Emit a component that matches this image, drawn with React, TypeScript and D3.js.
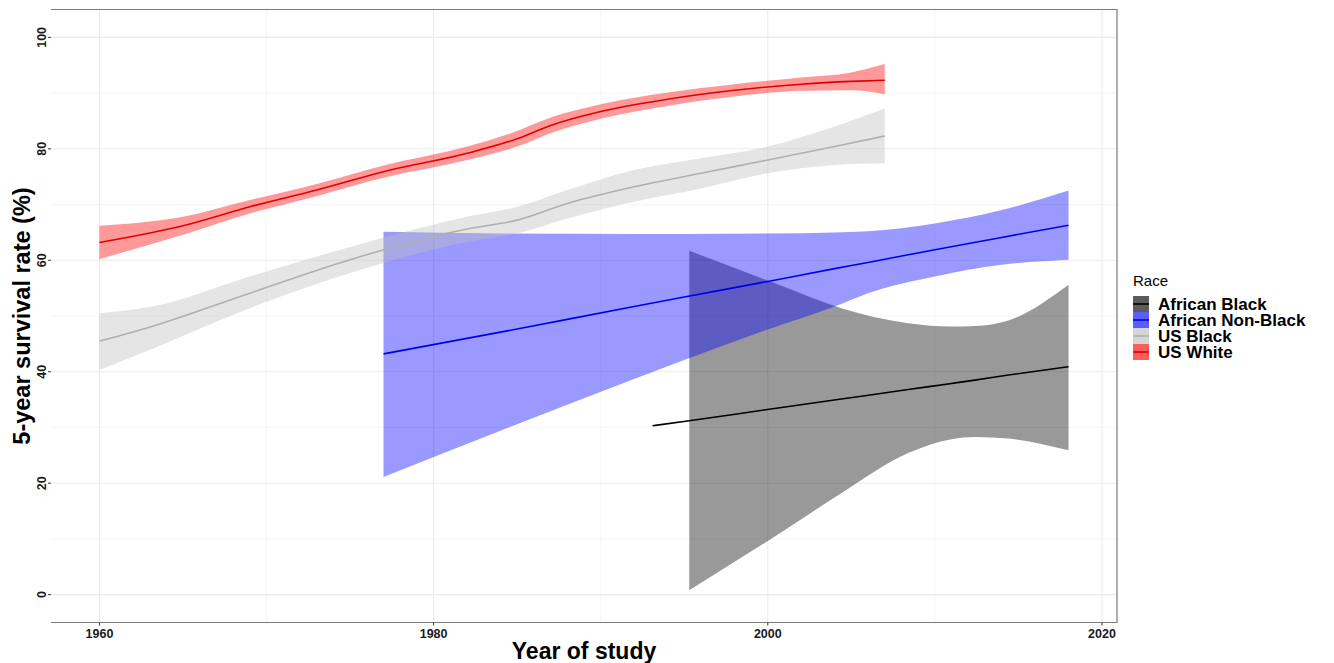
import { area, curveMonotoneX, line, range, scaleLinear } from 'd3';

// US White
const whiteYears = [1960, 1965, 1969, 1973, 1977, 1982, 1985, 1987, 1990, 1994, 1998, 2002, 2005, 2007];
const whiteFit = [63.2, 66.2, 69.6, 72.6, 75.9, 79.2, 81.8, 84.2, 86.7, 88.9, 90.5, 91.6, 92.1, 92.3];
const whiteLow = [60.2, 64.6, 68.4, 71.5, 74.8, 78.0, 80.4, 82.8, 85.4, 87.7, 89.4, 90.4, 90.5, 89.8];
const whiteHigh = [66.2, 67.8, 70.8, 73.7, 77.0, 80.4, 83.2, 85.6, 88.0, 90.1, 91.6, 92.8, 93.7, 95.2];

// US Black
const usBlackYears = [1960, 1963, 1969, 1975, 1982, 1985, 1988, 1992, 1996, 2000, 2004, 2007];
const usBlackFit = [45.5, 48.0, 54.1, 60.1, 65.6, 67.2, 70.2, 73.2, 75.6, 78.0, 80.4, 82.3];
const usBlackLow = [40.3, 43.9, 51.4, 57.7, 63.3, 64.8, 67.5, 70.5, 72.9, 75.6, 77.1, 77.4];
const usBlackHigh = [50.5, 51.6, 57.1, 62.4, 67.8, 69.6, 72.6, 76.2, 78.3, 80.4, 84.0, 87.3];

// African Non-Black
const nonBlackYears = [1977, 1984, 1992, 1995, 2000, 2004, 2006, 2010, 2014, 2018];
const nonBlackFit = [43.2, 47.1, 51.7, 53.4, 56.2, 58.5, 59.6, 61.9, 64.1, 66.3];
const nonBlackLow = [21.1, 29.4, 38.7, 42.1, 47.6, 51.7, 54.1, 57.1, 59.2, 60.1];
const nonBlackHigh = [65.1, 64.8, 64.7, 64.7, 64.8, 65.0, 65.2, 66.6, 69.0, 72.5];

// African Black (band is cut where it leaves the 0-100 limits)
const africanYears = [1993.1, 1995.3, 2000.4, 2004.4, 2008.4, 2011, 2012.4, 2014.4, 2018];
const africanFit = [30.3, 31.2, 33.4, 35.1, 36.8, 37.9, 38.5, 39.4, 40.9];
const africanLow = [null, 0.8, 10.4, 18.2, 25.4, 27.9, 28.3, 28.0, 25.9];
const africanHigh = [null, 61.7, 55.9, 51.4, 48.7, 48.1, 48.2, 49.2, 55.6];

const xTicks = [1960, 1980, 2000, 2020];
const xMinor = [1970, 1990, 2010];
const yTicks = [0, 20, 40, 60, 80, 100];
const yMinor = [10, 30, 50, 70, 90];

const series = [
  { name: 'African Black', years: africanYears, fit: africanFit, low: africanLow, high: africanHigh, fill: '#000000', stroke: '#000000' },
  { name: 'African Non-Black', years: nonBlackYears, fit: nonBlackFit, low: nonBlackLow, high: nonBlackHigh, fill: '#0000ff', stroke: '#0000e6' },
  { name: 'US Black', years: usBlackYears, fit: usBlackFit, low: usBlackLow, high: usBlackHigh, fill: '#bebebe', stroke: '#b0b0b0' },
  { name: 'US White', years: whiteYears, fit: whiteFit, low: whiteLow, high: whiteHigh, fill: '#ff0000', stroke: '#e00000' },
];

const W = 1334;
const H = 663;
const panel = { left: 51, right: 1117, top: 9.5, bottom: 622.5 };
const font = '"Liberation Sans", Arial, Helvetica, sans-serif';

export default function App() {
  const x = scaleLinear().domain([1957.1, 2020.9]).range([panel.left, panel.right]);
  const y = scaleLinear().domain([-5, 105]).range([panel.bottom, panel.top]);

  const band = area<number>().curve(curveMonotoneX);
  const fitLine = line<number>().curve(curveMonotoneX);

  return (
    <svg width={W} height={H} style={{ position: 'absolute', left: 0, top: 0, background: '#fff' }}>
      <defs>
        <clipPath id="panel">
          <rect x={panel.left} y={panel.top} width={panel.right - panel.left} height={panel.bottom - panel.top} />
        </clipPath>
      </defs>
      <rect x={panel.left} y={panel.top} width={panel.right - panel.left} height={panel.bottom - panel.top} fill="#fff" />
      <g>
        {xMinor.map((t) => (
          <line key={'xm' + t} x1={x(t)} x2={x(t)} y1={panel.top} y2={panel.bottom} stroke="#f4f4f4" strokeWidth={0.8} />
        ))}
        {yMinor.map((t) => (
          <line key={'ym' + t} y1={y(t)} y2={y(t)} x1={panel.left} x2={panel.right} stroke="#f4f4f4" strokeWidth={0.8} />
        ))}
        {xTicks.map((t) => (
          <line key={'xg' + t} x1={x(t)} x2={x(t)} y1={panel.top} y2={panel.bottom} stroke="#ebebeb" strokeWidth={1.1} />
        ))}
        {yTicks.map((t) => (
          <line key={'yg' + t} y1={y(t)} y2={y(t)} x1={panel.left} x2={panel.right} stroke="#ebebeb" strokeWidth={1.1} />
        ))}
      </g>
      <g clipPath="url(#panel)">
        {series.map((s) => {
          const idx = range(s.years.length);
          const bandPath = band
            .defined((i) => s.low[i] != null && s.high[i] != null)
            .x((i) => x(s.years[i]))
            .y0((i) => y(s.low[i] as number))
            .y1((i) => y(s.high[i] as number))(idx);
          const linePath = fitLine.x((i) => x(s.years[i])).y((i) => y(s.fit[i]))(idx);
          return (
            <g key={s.name}>
              <path d={bandPath || ''} fill={s.fill} fillOpacity={0.4} />
              <path d={linePath || ''} fill="none" stroke={s.stroke} strokeWidth={1.6} />
            </g>
          );
        })}
      </g>
      {/* panel border */}
      <path
        d={`M${panel.left},${panel.top}H${panel.right}V${panel.bottom}H${panel.left}`}
        fill="none"
        stroke="#7a7a7a"
        strokeWidth={1.2}
      />
      {/* axes */}
      <g fontFamily={font} fontWeight="bold" fontSize={12.5} fill="#1a1a1a">
        {xTicks.map((t) => (
          <g key={'xt' + t}>
            <line x1={x(t)} x2={x(t)} y1={panel.bottom} y2={panel.bottom + 3} stroke="#333" strokeWidth={1} />
            <text x={x(t)} y={638} textAnchor="middle">
              {t}
            </text>
          </g>
        ))}
        {yTicks.map((t) => (
          <g key={'yt' + t}>
            <line x1={panel.left - 3} x2={panel.left} y1={y(t)} y2={y(t)} stroke="#333" strokeWidth={1} />
            <text transform={`translate(46,${y(t)}) rotate(-90)`} textAnchor="middle">
              {t}
            </text>
          </g>
        ))}
      </g>
      <text
        x={(panel.left + panel.right) / 2}
        y={659}
        textAnchor="middle"
        fontFamily={font}
        fontWeight="bold"
        fontSize={23}
        fill="#000"
      >
        Year of study
      </text>
      <text
        transform={`translate(30,${(panel.top + panel.bottom) / 2}) rotate(-90)`}
        textAnchor="middle"
        fontFamily={font}
        fontWeight="bold"
        fontSize={23.5}
        fill="#000"
      >
        5-year survival rate (%)
      </text>
      {/* legend */}
      <g fontFamily={font}>
        <text x={1133} y={286} fontSize={15} fill="#000">
          Race
        </text>
        {series.map((s, i) => {
          const cy = 304 + i * 16;
          return (
            <g key={'lg' + s.name}>
              <rect x={1133} y={cy - 8} width={16} height={16} fill={s.fill} fillOpacity={0.64} />
              <line x1={1133} x2={1149} y1={cy} y2={cy} stroke={s.stroke} strokeWidth={1.6} />
              <text x={1158} y={cy + 6} fontSize={17} fontWeight="bold" fill="#000">
                {s.name}
              </text>
            </g>
          );
        })}
      </g>
    </svg>
  );
}
